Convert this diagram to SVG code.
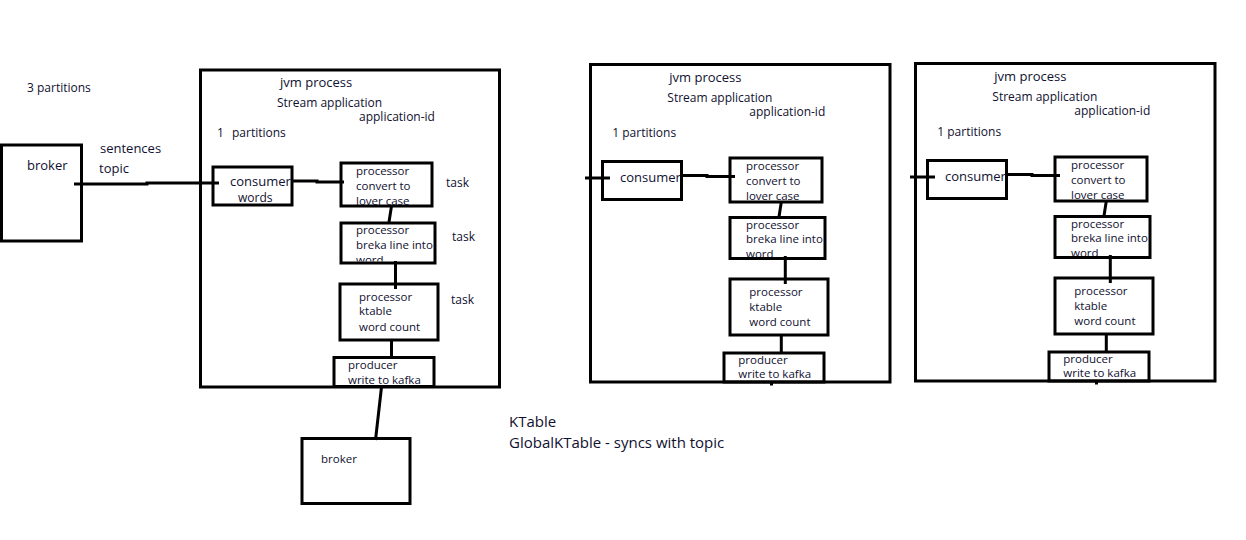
<svg xmlns="http://www.w3.org/2000/svg" width="1246" height="540" viewBox="0 0 1246 540">
<style>
.box{fill:none;stroke:#000;stroke-width:3}
.ln{fill:none;stroke:#000;stroke-width:3}
text{font-family:"Open Sans","Noto Sans",sans-serif;fill:#101030}
.t13{font-size:13px}
.t12{font-size:12px}
.t11{font-size:11.5px}
.t15{font-size:15px}
</style>
<defs>
<clipPath id="cL2"><rect x="342" y="224" width="92" height="37.5"/></clipPath>
<clipPath id="cLp"><rect x="335" y="359" width="98" height="26"/></clipPath>
<clipPath id="cM2"><rect x="731" y="219" width="93" height="38"/></clipPath>
<clipPath id="cMp"><rect x="725" y="354.5" width="98" height="26"/></clipPath>
</defs>
<rect width="1246" height="540" fill="#fff"/>

<text class="t12" x="27" y="91.5">3 partitions</text>
<text class="t13" x="100" y="152.5">sentences</text>
<text class="t13" x="99" y="172.5">topic</text>
<text class="t15" x="509" y="426.5">KTable</text>
<text class="t15" x="509" y="447.5">GlobalKTable - syncs with topic</text>

<g id="connectors">
<polyline class="ln" points="74,184 147,184 147,183 219,183"/>
<polyline class="ln" points="292,181 317,181 317,182 344,182"/>
<line class="ln" x1="391.5" y1="206" x2="389" y2="222"/>
<line class="ln" x1="395.5" y1="261" x2="395.5" y2="289"/>
<line class="ln" x1="391.5" y1="340" x2="391.5" y2="357"/>
<line class="ln" x1="381.5" y1="387" x2="375.5" y2="440"/>
<g id="conn-mid">
<line class="ln" x1="585" y1="178" x2="610" y2="178"/>
<polyline class="ln" points="681,175.5 707,175.5 707,176.5 735,176.5"/>
<line class="ln" x1="781.3" y1="202" x2="779" y2="217"/>
<line class="ln" x1="785.3" y1="256" x2="785.3" y2="284"/>
<line class="ln" x1="781.3" y1="335" x2="781.3" y2="352"/>
<line class="ln" x1="771.5" y1="382" x2="771.5" y2="385.5"/>
</g>
<g id="conn-right" transform="translate(325,-1)">
<line class="ln" x1="585" y1="178" x2="610" y2="178"/>
<polyline class="ln" points="681,175.5 707,175.5 707,176.5 735,176.5"/>
<line class="ln" x1="781.3" y1="202" x2="779" y2="217"/>
<line class="ln" x1="785.3" y1="256" x2="785.3" y2="284"/>
<line class="ln" x1="781.3" y1="335" x2="781.3" y2="352"/>
<line class="ln" x1="771.5" y1="382" x2="771.5" y2="385.5"/>
</g>
</g>

<g id="broker1">
<rect class="box" x="1.5" y="145" width="80" height="96"/>
<text class="t13" x="27" y="170">broker</text>
</g>

<g id="jvm1">
<rect class="box" x="200.5" y="70" width="299" height="317"/>
<text class="t13" x="280" y="86.5">jvm process</text>
<text class="t12" x="277" y="106.5">Stream application</text>
<text class="t12" x="359" y="121">application-id</text>
<text class="t12" x="217" y="136.5">1</text>
<text class="t12" x="232" y="136.5">partitions</text>
</g>
<g id="consumer1">
<rect class="box" x="213" y="167" width="79" height="38"/>
<text class="t13" x="230" y="185.5">consumer</text>
<text class="t12" x="238" y="202">words</text>
</g>
<g id="proc1a">
<rect class="box" x="341" y="163" width="91" height="43"/>
<text class="t11" x="356" y="174.7">processor</text>
<text class="t11" x="356" y="189.7">convert to</text>
<text class="t11" x="356" y="204.5">lover case</text>
</g>
<text class="t12" x="446" y="186.7">task</text>
<g id="proc1b">
<g clip-path="url(#cL2)">
<text class="t11" x="356" y="234">processor</text>
<text class="t11" x="356" y="248.5">breka line into</text>
<text class="t11" x="356" y="263.5">word</text>
</g>
<rect class="box" x="341" y="223" width="94" height="40"/>
</g>
<text class="t12" x="452" y="240.7">task</text>
<g id="proc1c">
<rect class="box" x="340" y="284" width="98" height="56"/>
<text class="t11" x="359" y="300.7">processor</text>
<text class="t11" x="359" y="315.3">ktable</text>
<text class="t11" x="359" y="330.7">word count</text>
</g>
<text class="t12" x="451" y="304.3">task</text>
<g id="producer1">
<g clip-path="url(#cLp)">
<text class="t11" x="348" y="369">producer</text>
<text class="t11" x="348" y="383.5">write to kafka</text>
</g>
<rect class="box" x="334" y="357.5" width="100" height="29"/>
</g>
<g id="broker2">
<rect class="box" x="302" y="438.5" width="108" height="65"/>
<text class="t11" x="321" y="462.7">broker</text>
</g>

<g id="jvm2">
<rect class="box" x="590.5" y="64.5" width="299.5" height="317.5"/>
<text class="t13" x="669.3" y="81.7">jvm process</text>
<text class="t12" x="667.3" y="101.7">Stream application</text>
<text class="t12" x="749.3" y="116">application-id</text>
<text class="t12" x="612.3" y="137.3">1 partitions</text>
</g>
<g id="consumer2">
<rect class="box" x="602.5" y="161.5" width="79" height="38"/>
<text class="t13" x="620" y="181.7">consumer</text>
</g>
<g id="proc2a">
<rect class="box" x="730" y="158" width="92" height="44"/>
<text class="t11" x="746" y="170">processor</text>
<text class="t11" x="746" y="184.7">convert to</text>
<text class="t11" x="746" y="199.7">lover case</text>
</g>
<g id="proc2b">
<g clip-path="url(#cM2)">
<text class="t11" x="746" y="228.7">processor</text>
<text class="t11" x="746" y="243.3">breka line into</text>
<text class="t11" x="746" y="258">word</text>
</g>
<rect class="box" x="730" y="217.5" width="95" height="41"/>
</g>
<g id="proc2c">
<rect class="box" x="730" y="279" width="98" height="56"/>
<text class="t11" x="749.3" y="295.7">processor</text>
<text class="t11" x="749.3" y="310.7">ktable</text>
<text class="t11" x="749.3" y="325.7">word count</text>
</g>
<g id="producer2">
<g clip-path="url(#cMp)">
<text class="t11" x="738.3" y="364">producer</text>
<text class="t11" x="738.3" y="378.3">write to kafka</text>
</g>
<rect class="box" x="724" y="353" width="100" height="29"/>
</g>

<g transform="translate(325,-1)">
<g id="jvm3">
<rect class="box" x="590.5" y="64.5" width="299.5" height="317.5"/>
<text class="t13" x="669.3" y="81.7">jvm process</text>
<text class="t12" x="667.3" y="101.7">Stream application</text>
<text class="t12" x="749.3" y="116">application-id</text>
<text class="t12" x="612.3" y="137.3">1 partitions</text>
</g>
<g id="consumer3">
<rect class="box" x="602.5" y="161.5" width="79" height="38"/>
<text class="t13" x="620" y="181.7">consumer</text>
</g>
<g id="proc3a">
<rect class="box" x="730" y="158" width="92" height="44"/>
<text class="t11" x="746" y="170">processor</text>
<text class="t11" x="746" y="184.7">convert to</text>
<text class="t11" x="746" y="199.7">lover case</text>
</g>
<g id="proc3b">
<g clip-path="url(#cM2)">
<text class="t11" x="746" y="228.7">processor</text>
<text class="t11" x="746" y="243.3">breka line into</text>
<text class="t11" x="746" y="258">word</text>
</g>
<rect class="box" x="730" y="217.5" width="95" height="41"/>
</g>
<g id="proc3c">
<rect class="box" x="730" y="279" width="98" height="56"/>
<text class="t11" x="749.3" y="295.7">processor</text>
<text class="t11" x="749.3" y="310.7">ktable</text>
<text class="t11" x="749.3" y="325.7">word count</text>
</g>
<g id="producer3">
<g clip-path="url(#cMp)">
<text class="t11" x="738.3" y="364">producer</text>
<text class="t11" x="738.3" y="378.3">write to kafka</text>
</g>
<rect class="box" x="724" y="353" width="100" height="29"/>
</g>
</g>
</svg>
